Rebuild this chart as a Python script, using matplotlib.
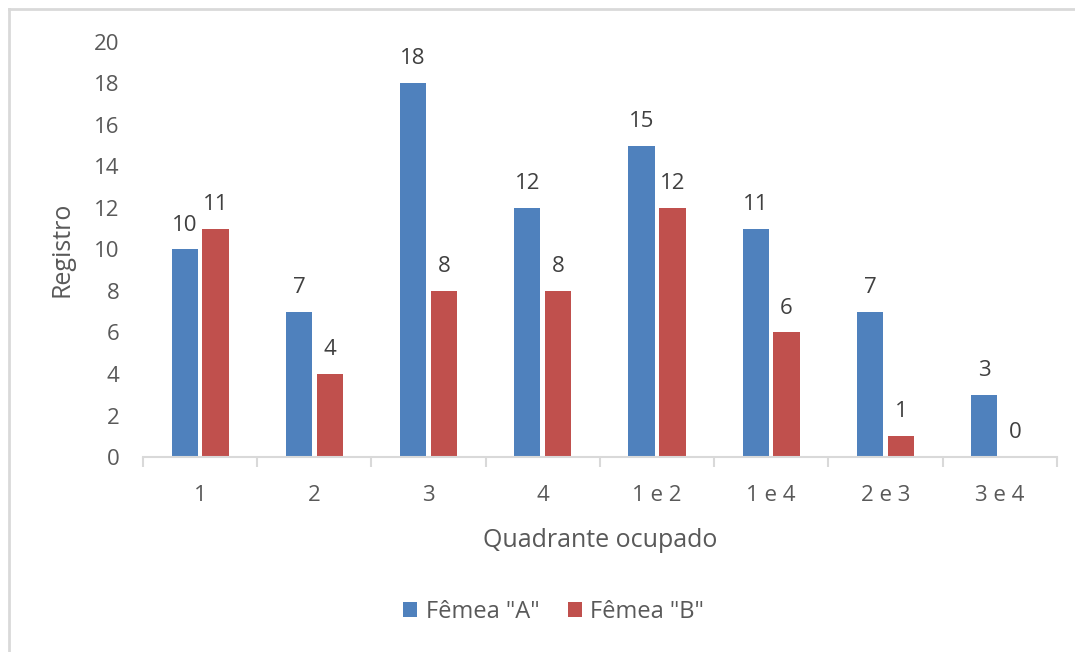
import numpy as np
import matplotlib.pyplot as plt
from matplotlib.lines import Line2D

quadrantes = ["1", "2", "3", "4", "1 e 2", "1 e 4", "2 e 3", "3 e 4"]
femea_a = [10, 7, 18, 12, 15, 11, 7, 3]
femea_b = [11, 4, 8, 8, 12, 6, 1, 0]

azul = "#4F81BD"
vermelho = "#C0504D"
cinza = "#595959"

plt.rcParams['font.family'] = ['Open Sans', 'DejaVu Sans']

fig = plt.figure(figsize=(10.75, 6.52), dpi=100)
ax = fig.add_axes([0.133, 0.299, 0.850, 0.637])

x = np.arange(len(quadrantes))
width = 0.23
off = 0.135

b1 = ax.bar(x - off, femea_a, width, color=azul, label='Fêmea "A"')
b2 = ax.bar(x + off, femea_b, width, color=vermelho, label='Fêmea "B"')

for rects, vals in ((b1, femea_a), (b2, femea_b)):
    for r, v in zip(rects, vals):
        ax.annotate(str(v), xy=(r.get_x() + r.get_width() / 2, v),
                    xytext=(0, 10), textcoords="offset points",
                    ha="center", va="bottom", fontsize=16, color="#404040")

ax.set_xlim(-0.5, len(quadrantes) - 0.5)
ax.set_ylim(0, 20)
ax.set_yticks(range(0, 21, 2))
ax.tick_params(axis="y", length=0, pad=17, labelsize=16, labelcolor=cinza)

ax.set_xticks(x)
ax.set_xticklabels(quadrantes)
ax.set_xticks(np.arange(-0.5, len(quadrantes)), minor=True)
ax.tick_params(axis="x", which="major", length=0, pad=20, labelsize=16, labelcolor=cinza)
ax.tick_params(axis="x", which="minor", length=7, width=1.5, color="#D9D9D9")

for s in ("top", "right", "left"):
    ax.spines[s].set_visible(False)
ax.spines["bottom"].set_color("#D9D9D9")
ax.spines["bottom"].set_linewidth(1.5)

ax.set_ylabel("Registro", fontsize=18, color=cinza, labelpad=14)
ax.set_xlabel("Quadrante ocupado", fontsize=18, color=cinza, labelpad=16)

leg = fig.legend(handles=[b1, b2], loc="center", bbox_to_anchor=(0.515, 0.061),
                 ncol=2, frameon=False, fontsize=17, handlelength=0.6,
                 handleheight=0.6, handletextpad=0.35, columnspacing=1.2)
for t in leg.get_texts():
    t.set_color(cinza)

# moldura externa (só topo e lado esquerdo aparecem)
x0, y0 = 8.5 / 1075, 1 - 9 / 652
fig.add_artist(Line2D([x0, 1], [y0, y0], transform=fig.transFigure,
                      color="#D9D9D9", linewidth=2))
fig.add_artist(Line2D([x0, x0], [0, y0], transform=fig.transFigure,
                      color="#D9D9D9", linewidth=2))

fig.savefig("out.png", dpi=100)
